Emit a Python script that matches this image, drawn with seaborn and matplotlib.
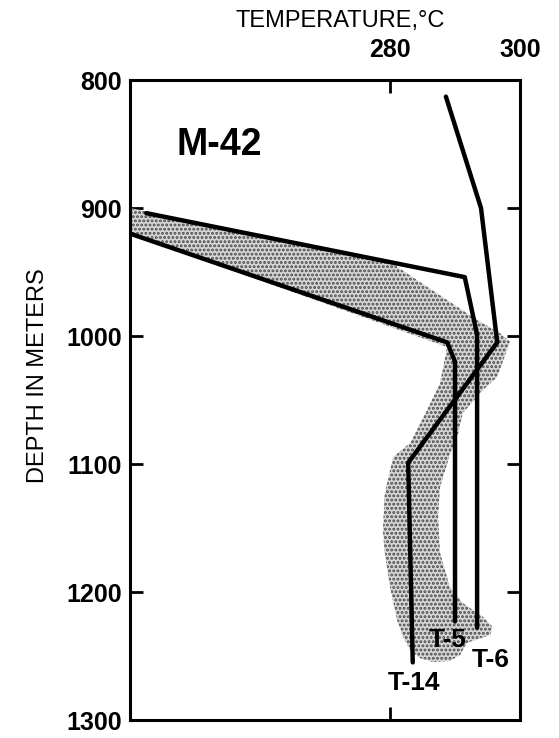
import matplotlib
matplotlib.use("Agg")
import matplotlib.pyplot as plt
import seaborn as sns

# Temperature profiles (deg C) against depth (m) for well M-42
t14_temp = [288.6, 294.0, 296.5, 282.8, 283.5]
t14_depth = [813, 900, 1005, 1099, 1255]

t6_temp = [242.5, 291.5, 293.4, 293.4]
t6_depth = [904, 954, 999, 1228]

t5_temp = [240.0, 288.8, 290.0, 290.0]
t5_depth = [920, 1005, 1020, 1223]

# Outline of the stippled envelope around the profiles
band_temp = [240.0, 280.0, 293.4, 296.9, 298.5, 298.0, 296.5, 294.3, 291.2,
             290.5, 289.2, 287.7, 287.4, 287.7, 289.2, 291.2, 294.3, 295.8,
             295.4, 291.8, 290.8, 289.2, 286.6, 284.6, 283.1, 282.0, 281.1,
             280.0, 279.2, 278.9, 279.2, 280.5, 283.1, 285.7, 287.7, 288.8,
             240.0]
band_depth = [900.0, 942.2, 987.5, 997.7, 1004.7, 1010.9, 1032.0, 1042.2,
              1060.2, 1075.8, 1093.0, 1118.0, 1141.4, 1169.5, 1196.1, 1208.6,
              1219.5, 1227.3, 1233.6, 1239.8, 1249.2, 1253.9, 1254.7, 1251.6,
              1245.3, 1235.2, 1221.9, 1196.1, 1169.5, 1151.6, 1122.7, 1094.5,
              1083.6, 1057.8, 1036.7, 1008.6, 920.3]

temp_ticks = [280, 300]
depth_ticks = [800, 900, 1000, 1100, 1200, 1300]

profile_labels = ["T-14", "T-5", "T-6"]
label_temp = [283.7, 288.9, 295.5]
label_depth = [1271, 1237.5, 1253]

sns.set_theme(style="white")
plt.rcParams["font.family"] = ["Liberation Sans", "DejaVu Sans"]
plt.rcParams["hatch.linewidth"] = 1.4
for key in ["text.color", "axes.labelcolor", "xtick.color", "ytick.color"]:
    plt.rcParams[key] = "black"

fig = plt.figure(figsize=(5.59, 7.38), dpi=100)
ax = fig.add_axes([130 / 559, 1 - 720 / 738, 390 / 559, 640 / 738])

ax.fill(band_temp, band_depth, facecolor="#d6d6d6", edgecolor="#4a4a4a",
        linewidth=0, hatch="....", zorder=1)

for temps, depths in [(t14_temp, t14_depth), (t6_temp, t6_depth), (t5_temp, t5_depth)]:
    sns.lineplot(x=temps, y=depths, sort=False, estimator=None, color="black",
                 linewidth=3.2, ax=ax, zorder=3)

ax.set_xlim(240, 300)
ax.set_ylim(1300, 800)

ax.set_xticks(temp_ticks)
ax.set_yticks(depth_ticks)
ax.tick_params(axis="x", top=True, bottom=True, labeltop=True, labelbottom=False,
               direction="in", length=9.5, width=2, pad=13, labelsize=18)
ax.tick_params(axis="y", left=True, right=True, labelleft=True, labelright=False,
               direction="in", length=9.5, width=2, pad=6, labelsize=18)
for lbl in ax.get_xticklabels() + ax.get_yticklabels():
    lbl.set_fontweight("bold")

for sp in ax.spines.values():
    sp.set_visible(True)
    sp.set_color("black")
    sp.set_linewidth(2.2)

ax.xaxis.set_label_position("top")
ax.set_xlabel("TEMPERATURE,°C", fontsize=17, labelpad=8)
ax.xaxis.label.set_x(0.538)
ax.set_ylabel("DEPTH IN METERS", fontsize=17, labelpad=12)
ax.yaxis.label.set_y(0.5375)

ax.text(0.12, 0.898, "M-42", transform=ax.transAxes, fontsize=27,
        fontweight="bold", ha="left", va="center")

for name, tx, dy in zip(profile_labels, label_temp, label_depth):
    ax.text(tx, dy, name, fontsize=19, fontweight="bold", ha="center",
            va="center", zorder=4)

fig.savefig("out.png", dpi=100)
